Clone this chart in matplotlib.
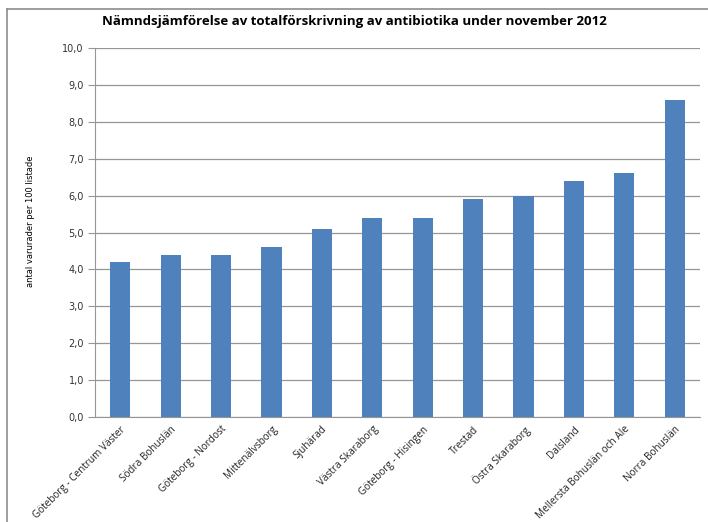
import matplotlib

matplotlib.use("Agg")
import matplotlib.pyplot as plt
from matplotlib.lines import Line2D

# Antibiotic prescriptions per committee, November 2012
regions = [
    "Göteborg - Centrum Väster",
    "Södra Bohuslän",
    "Göteborg - Nordost",
    "Mittenälvsborg",
    "Sjuhärad",
    "Västra Skaraborg",
    "Göteborg - Hisingen",
    "Trestad",
    "Östra Skaraborg",
    "Dalsland",
    "Mellersta Bohuslän och Ale",
    "Norra Bohuslän",
]
values = [4.2, 4.4, 4.4, 4.6, 5.1, 5.4, 5.4, 5.9, 6.0, 6.4, 6.6, 8.6]
yticks = [0, 1, 2, 3, 4, 5, 6, 7, 8, 9, 10]

fig = plt.figure(figsize=(7.08, 5.22), dpi=100)
ax = fig.add_axes([95 / 708, 1 - 417 / 522, 605 / 708, 369 / 522])

x = range(len(regions))
ax.bar(x, values, width=0.4, color="#4F81BD", zorder=3)

ax.set_xlim(-0.5, len(regions) - 0.5)
ax.set_ylim(0, 10)
ax.set_yticks(yticks)
ax.set_yticklabels([f"{v:.1f}".replace(".", ",") for v in yticks],
                   fontsize=7, color="#333333", family="DejaVu Sans")
ax.yaxis.grid(True, color="#969696", linewidth=0.9, zorder=0)
ax.tick_params(axis="y", length=5, color="#969696", pad=3)

ax.set_xticks(list(x))
ax.set_xticklabels(regions, rotation=45, ha="right", rotation_mode="anchor",
                   fontsize=7.2, family="Open Sans", color="#222222")
ax.tick_params(axis="x", length=0, pad=5)

for side in ("top", "right"):
    ax.spines[side].set_visible(False)
for side in ("left", "bottom"):
    ax.spines[side].set_color("#969696")

ax.set_ylabel("antal varurader per 100 listade", fontsize=6,
              family="Liberation Sans Narrow", labelpad=18)
ax.yaxis.set_label_coords(-0.1, 0.53)

fig.text(0.5, 1 - 22 / 522, "Nämndsjämförelse av totalförskrivning av antibiotika under november 2012",
         ha="center", va="center", fontsize=9.5, fontweight="bold",
         family="Open Sans")

# chart frame (top and left edges)
fig.add_artist(Line2D([6.5 / 708, 1.0], [1 - 9 / 522, 1 - 9 / 522],
                      transform=fig.transFigure, color="#8c8c8c", linewidth=1.2))
fig.add_artist(Line2D([6.5 / 708, 6.5 / 708], [0.0, 1 - 9 / 522],
                      transform=fig.transFigure, color="#8c8c8c", linewidth=1.2))

fig.savefig("out.png", dpi=100)
